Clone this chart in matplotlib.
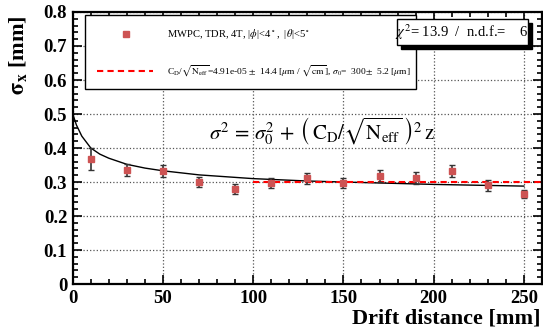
import matplotlib
matplotlib.use("Agg")
from matplotlib import pyplot as plt
from matplotlib.patches import Rectangle
from matplotlib.lines import Line2D
from matplotlib.ticker import MultipleLocator

plt.rcParams["font.family"] = ["Liberation Serif", "DejaVu Serif"]
plt.rcParams["mathtext.fontset"] = "stix"

# measured points
drift = [10, 30, 50, 70, 90, 110, 130, 150, 170, 190, 210, 230, 250]
sigma = [0.368, 0.335, 0.332, 0.300, 0.280, 0.297, 0.311, 0.298, 0.317, 0.312, 0.332, 0.291, 0.266]
sigma_err = [0.033, 0.017, 0.018, 0.015, 0.015, 0.015, 0.017, 0.015, 0.017, 0.017, 0.017, 0.016, 0.012]

# black curve
curve_x = [0, 2, 5, 10, 15, 20, 30, 40, 50, 70, 100, 130, 150, 200, 250]
curve_y = [0.500, 0.468, 0.435, 0.400, 0.382, 0.370, 0.352, 0.341, 0.333, 0.321, 0.310, 0.303, 0.300, 0.293, 0.288]

# fitted sigma_0 (red dashed), fit range start
sigma0 = 0.300
fit_start = 100

fig = plt.figure(figsize=(5.43, 3.33), dpi=100)
ax = fig.add_axes([0.134, 0.147, 0.864, 0.817])

ax.set_xlim(0, 260)
ax.set_ylim(0, 0.8)

ax.grid(True, which="major", linestyle=":", color="#555555", linewidth=0.9)
ax.set_axisbelow(True)

ax.plot(curve_x, curve_y, color="black", linewidth=1.0, zorder=3)
ax.plot([fit_start, 260], [sigma0, sigma0], color="red", linestyle="--",
        linewidth=1.5, dashes=(3, 2), zorder=4)
ax.errorbar(drift, sigma, yerr=sigma_err, fmt="s", color="#cd5353",
            markersize=5, ecolor="#333333", elinewidth=1.2, capsize=2,
            capthick=1, zorder=5)

ax.xaxis.set_major_locator(MultipleLocator(50))
ax.xaxis.set_minor_locator(MultipleLocator(10))
ax.yaxis.set_major_locator(MultipleLocator(0.1))
ax.yaxis.set_minor_locator(MultipleLocator(0.02))
ax.tick_params(which="both", direction="in", top=True, right=True, width=1.2)
ax.tick_params(which="major", length=6.5, labelsize=13.5, pad=4)
ax.tick_params(which="minor", length=3.5)
ax.yaxis.set_major_formatter(plt.FuncFormatter(lambda v, p: "0" if v == 0 else f"{v:.1f}"))
for s in ax.spines.values():
    s.set_linewidth(1.6)

fig.text(0.035, 0.955, r"$\mathbf{\sigma_x}$ [mm]", rotation=90, ha="center", va="top",
         fontsize=16, fontweight="bold")
fig.text(0.995, 0.015, "Drift distance [mm]", ha="right", va="bottom",
         fontsize=16, fontweight="bold")

# legend box
tf = fig.transFigure
fig.add_artist(Rectangle((0.1565, 0.733), 0.6095, 0.222, transform=tf,
                         facecolor="white", edgecolor="black", linewidth=1.0, zorder=6))
fig.add_artist(Line2D([0.232], [0.898], transform=tf, marker="s", color="#cd5353",
                      markersize=5, linestyle="none", zorder=7))
fig.text(0.3075, 0.898,
         r"MWPC, TDR, 4T, |$\phi$|<4$\,^\circ$,  |$\theta$|<5$^\circ$",
         ha="left", va="center", fontsize=7.6, zorder=7)
fig.add_artist(Line2D([0.1786, 0.2818], [0.787, 0.787], transform=tf, color="red",
                      linestyle="--", dashes=(3, 2), linewidth=1.5, zorder=7))
fig.text(0.3075, 0.787,
         r"C$_\mathrm{D}$/$\sqrt{\mathrm{N_{eff}}}$=4.91e-05 $\pm$  14.4 [$\mu$m / $\sqrt{\mathrm{cm}}$], "
         r"$\sigma_0$=  300$\pm$  5.2 [$\mu$m]",
         ha="left", va="center", fontsize=6.8, zorder=7)

# chi2 box with shadow
fig.add_artist(Rectangle((0.731 + 0.0075, 0.865 - 0.012), 0.241, 0.078, transform=tf,
                         facecolor="black", edgecolor="black", zorder=8))
fig.add_artist(Rectangle((0.731, 0.865), 0.241, 0.078, transform=tf,
                         facecolor="white", edgecolor="black", linewidth=1.0, zorder=9))
fig.text(0.851, 0.903, r"$\chi^2$= 13.9  /  n.d.f.=    6", ha="center", va="center",
         fontsize=10.5, zorder=10)

fig.text(0.593, 0.607,
         r"$\sigma^2 \,=\, \sigma_0^2 \,+\, \left(\,\mathrm{C_D}/\sqrt{\mathrm{N_{eff}}}\,\right)^2 \,\mathrm{z}$",
         ha="center", va="center", fontsize=15, zorder=10)

# bold tick labels (set after a draw so the tick objects exist)
fig.canvas.draw()
for lab in ax.get_xticklabels() + ax.get_yticklabels():
    lab.set_fontweight("bold")

fig.savefig("out.png", dpi=100)
